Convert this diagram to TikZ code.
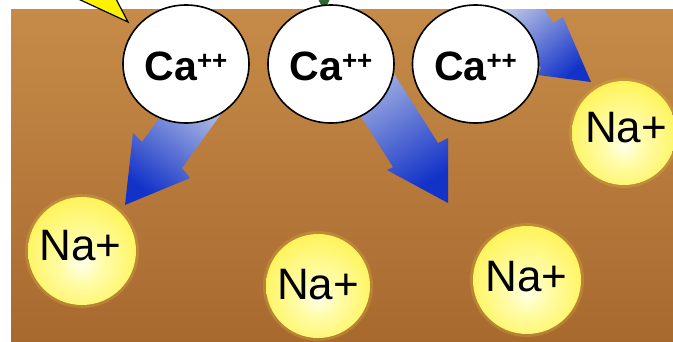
\documentclass[tikz,border=0pt]{standalone}
\usepackage{fontspec}
\setmainfont{Liberation Sans}
\usetikzlibrary{shapes.geometric}
\definecolor{bgtop}{HTML}{C68B48}
\definecolor{bgbot}{HTML}{A8692F}
\definecolor{arrtail}{HTML}{C4CDE6}
\definecolor{arrhead}{HTML}{1232C8}
\definecolor{naIn}{HTML}{FFFFEA}
\definecolor{naHi}{HTML}{FFFCA8}
\definecolor{naMid}{HTML}{FFF45A}
\definecolor{naOut}{HTML}{EED81C}
\definecolor{naHalo}{HTML}{D8B838}
\definecolor{stem}{HTML}{2F6A2A}
\pgfdeclareradialshading{nashade}{\pgfpoint{0bp}{-6bp}}{color(0bp)=(naIn);color(10bp)=(naHi);color(28bp)=(naMid);color(47bp)=(naOut);color(60bp)=(naOut)}
\begin{document}
\begin{tikzpicture}[x=1pt,y=-1pt,
  cabox/.style={ellipse, draw=black, line width=1.6pt, fill=white,
    minimum width=126pt, minimum height=118pt, inner sep=0pt},
  catext/.style={font=\fontsize{41}{41}\selectfont\bfseries, inner sep=0pt, anchor=base},
  nabox/.style={circle, shade, shading=nashade, minimum size=#1, inner sep=0pt},
  nahalo/.style={fill=naHalo, opacity=0.3},
  natext/.style={font=\fontsize{44}{44}\selectfont, inner sep=0pt, anchor=base},
  arrowshape/.style={top color=arrtail, bottom color=arrhead, shading angle=#1},
  callout/.style={fill=yellow, draw=black, line width=1.2pt, line join=miter}]
\useasboundingbox (0,0) rectangle (673,342);
\begin{scope}
\clip (0,0) rectangle (673,342);
% background
\shade[top color=bgtop, bottom color=bgbot] (11,10) rectangle (673,342);
% callout tip and stem
\draw[callout] (74,-3) -- (128,22) -- (115,-3);
\fill[stem] (318,-1) -- (330,-1) -- (327,5) -- (321,5) -- cycle;
% arrows
\begin{scope}
\clip (11,10) rectangle (673,342);
\shade[arrowshape=-36] (189,77) -- (142,142) -- (133,133) -- (125,205) -- (190,178) -- (182,168) -- (229,103) -- cycle;
\shade[arrowshape=32] (329,66) -- (393,167) -- (387,170) -- (448,203) -- (448,138) -- (438,143) -- (374,42) -- cycle;
\shade[arrowshape=40] (488,-5) -- (541,68) -- (538,75) -- (591,82) -- (563,17) -- (553,23) -- (536,-5) -- cycle;
\end{scope}
% Ca ions
\node[cabox] (ca1) at (186,64) {};
\node[cabox] (ca2) at (331,64) {};
\node[cabox] (ca3) at (475.5,64) {};
\node[catext] (ca1t) at (186,81) {Ca\raisebox{11pt}{\fontsize{26}{26}\selectfont ++}};
\node[catext] (ca2t) at (331,81) {Ca\raisebox{11pt}{\fontsize{26}{26}\selectfont ++}};
\node[catext] (ca3t) at (475.5,81) {Ca\raisebox{11pt}{\fontsize{26}{26}\selectfont ++}};
% Na ions
\fill[nahalo] (82,251) circle (57);
\fill[nahalo] (318,286) circle (55);
\fill[nahalo] (527,280) circle (57);
\fill[nahalo] (624,133) circle (55);
\node[nabox=108pt] (na1) at (82,251) {};
\node[nabox=104pt] (na2) at (318,286) {};
\node[nabox=108pt] (na3) at (527,280) {};
\node[nabox=104pt] (na4) at (624,133) {};
\node[natext] (na1t) at (80.5,261) {Na+};
\node[natext] (na2t) at (318,299) {Na+};
\node[natext] (na3t) at (526.5,291) {Na+};
\node[natext] (na4t) at (626,143) {Na+};
\end{scope}
\end{tikzpicture}
\end{document}
